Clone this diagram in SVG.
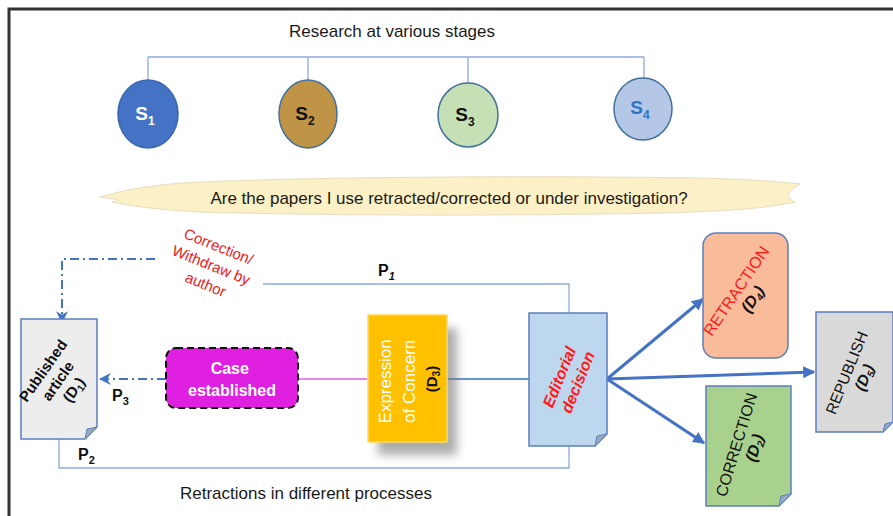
<svg xmlns="http://www.w3.org/2000/svg" width="893" height="516" viewBox="0 0 893 516">
<style>
text{font-family:"Liberation Sans",Arial,sans-serif}
.plain{font-size:17px;fill:#1a1a1a}
.sl{font-size:19px;font-weight:bold}
.conn{fill:none;stroke:#8eaadb;stroke-width:1.3}
.blue{fill:none;stroke:#4472c4;stroke-width:3}
.dd{fill:none;stroke:#4472c4;stroke-width:2;stroke-dasharray:9 4 2 4}
.doc{stroke:#5b7fbf;stroke-width:1.5}
.fold{fill:#9aa9bd;stroke:#5b7fbf;stroke-width:1}
.lbl{font-size:16px;font-weight:bold;fill:#111}
</style>
<defs>
<marker id="ah" viewBox="0 0 10 10" refX="9" refY="5" markerWidth="4" markerHeight="4" orient="auto-start-reverse" markerUnits="strokeWidth">
<path d="M0,0 L10,5 L0,10 Z" fill="#4472c4"/>
</marker>
<marker id="ah2" viewBox="0 0 10 10" refX="9" refY="5" markerWidth="6" markerHeight="6" orient="auto" markerUnits="strokeWidth">
<path d="M0,0 L10,5 L0,10 L3,5 Z" fill="#4472c4"/>
</marker>
<filter id="sh" x="-30%" y="-30%" width="160%" height="160%">
<feGaussianBlur stdDeviation="5"/>
</filter>
</defs>

<rect x="9" y="9" width="900" height="520" fill="#fff" stroke="#333" stroke-width="3"/>

<text class="plain" x="392" y="37" text-anchor="middle">Research at various stages</text>

<g id="connectors">
<path class="conn" d="M148,57 H644 M148,57 V80 M308,57 V80 M468,57 V84 M644,57 V78"/>
<path class="conn" d="M263,284 H569 V313"/>
<path class="conn" d="M59,439 V468 H569 V446"/>
<path class="dd" d="M155,259 H62 V322" marker-end="url(#ah2)"/>
<path class="dd" d="M166,379 H100" marker-end="url(#ah2)"/>
<line x1="298" y1="379" x2="368" y2="379" stroke="#e060e0" stroke-width="1.5"/>
<line x1="447" y1="379" x2="529" y2="379" stroke="#2e75b6" stroke-width="1.5"/>
<line class="blue" x1="607" y1="379" x2="703" y2="299" marker-end="url(#ah)"/>
<line class="blue" x1="607" y1="379" x2="814" y2="372" marker-end="url(#ah)"/>
<line class="blue" x1="607" y1="379" x2="704" y2="443" marker-end="url(#ah)"/>
</g>

<g id="s1">
<ellipse cx="148" cy="114" rx="30" ry="34" fill="#4472c4" stroke="#3a66b0" stroke-width="1.5"/>
<text class="sl" x="145" y="120" text-anchor="middle" fill="#fff">S<tspan font-size="12" dy="5">1</tspan></text>
</g>
<g id="s2">
<ellipse cx="308" cy="114" rx="29" ry="34" fill="#bf9446" stroke="#41719c" stroke-width="1.5"/>
<text class="sl" x="305" y="120" text-anchor="middle" fill="#111">S<tspan font-size="12" dy="5">2</tspan></text>
</g>
<g id="s3">
<ellipse cx="468" cy="115" rx="30" ry="32" fill="#c5e0b4" stroke="#41719c" stroke-width="1.5"/>
<text class="sl" x="465" y="121" text-anchor="middle" fill="#111">S<tspan font-size="12" dy="5">3</tspan></text>
</g>
<g id="s4">
<ellipse cx="643" cy="109" rx="29" ry="31" fill="#b4c7e7" stroke="#41719c" stroke-width="1.5"/>
<text class="sl" x="640" y="114" text-anchor="middle" fill="#2e75c6">S<tspan font-size="12" dy="5">4</tspan></text>
</g>

<g id="question">
<path d="M100,197 C130,188 160,184 200,182 C350,176 560,176 700,178 C740,179 775,181 800,184 C790,190 782,196 795,202 C760,210 700,213 600,214 C450,216 300,215 200,212 C160,210 130,206 112,202 C125,200 115,199 100,197 Z" fill="#fcf0c6" stroke="#e6dcc0" stroke-width="1"/>
<text x="449" y="204" text-anchor="middle" font-size="17" fill="#1a1a1a">Are the papers I use retracted/corrected or under investigation?</text>
</g>

<g id="withdraw-label">
<text transform="rotate(22 213 266)" font-size="15" fill="#f01818" text-anchor="middle">
<tspan x="213" y="251">Correction/</tspan>
<tspan x="213" y="271">Withdraw by</tspan>
<tspan x="213" y="291">author</tspan>
</text>
</g>

<text class="lbl" x="378" y="276">P<tspan font-size="11" dy="4" font-style="italic">1</tspan></text>
<text class="lbl" x="78" y="460">P<tspan font-size="11" dy="4">2</tspan></text>
<text class="lbl" x="112" y="401">P<tspan font-size="11" dy="4">3</tspan></text>

<g id="published">
<path class="doc" d="M21,319 H97 V427 L85,439 H21 Z" fill="#ededed"/>
<path class="fold" d="M97,427 L85,439 L87,429 Z"/>
<text transform="rotate(-55 60 380)" font-size="15" font-weight="bold" fill="#111" text-anchor="middle">
<tspan x="60" y="366">Published</tspan>
<tspan x="60" y="384">article</tspan>
<tspan x="60" y="402">(D<tspan font-size="10" dy="3">1</tspan><tspan dy="-3">)</tspan></tspan>
</text>
</g>

<g id="case">
<rect x="166" y="348" width="132" height="60" rx="10" fill="#e020e0" stroke="#111" stroke-width="2" stroke-dasharray="7 4"/>
<text font-size="16" font-weight="bold" fill="#fff" text-anchor="middle">
<tspan x="232" y="374">Case</tspan>
<tspan x="232" y="396">established</tspan>
</text>
</g>

<g id="eoc">
<rect x="378" y="328" width="79" height="127" fill="#777" opacity="0.6" filter="url(#sh)"/>
<rect x="368" y="315" width="79" height="127" fill="#ffc000" stroke="#ffd966" stroke-width="1.5"/>
<text transform="rotate(-90 408 379)" font-size="17" text-anchor="middle">
<tspan x="408" y="362" fill="#fff">Expression</tspan>
<tspan x="408" y="386" fill="#fff">of Concern</tspan>
<tspan x="408" y="408" fill="#111" font-weight="bold" font-size="15">(D<tspan font-size="10" dy="3">3</tspan><tspan dy="-3">)</tspan></tspan>
</text>
</g>

<g id="editorial">
<path class="doc" d="M529,313 H607 V434 L595,446 H529 Z" fill="#bdd7ee"/>
<path class="fold" d="M607,434 L595,446 L597,436 Z"/>
<text transform="rotate(-68 570 379)" font-size="16" font-weight="bold" font-style="italic" fill="#ff1a1a" text-anchor="middle">
<tspan x="570" y="374">Editorial</tspan>
<tspan x="570" y="393">decision</tspan>
</text>
</g>

<g id="retraction">
<rect x="703" y="233" width="85" height="125" rx="13" fill="#f8bc9a" stroke="#5b7fbf" stroke-width="1.5"/>
<text transform="rotate(-56 748 296)" font-size="16" text-anchor="middle">
<tspan x="748" y="289" fill="#ff1a1a">RETRACTION</tspan>
<tspan x="748" y="307" fill="#111" font-weight="bold" font-style="italic">(D<tspan font-size="10" dy="3">4</tspan><tspan dy="-3">)</tspan></tspan>
</text>
</g>

<g id="republish">
<path class="doc" d="M816,312 H893 V422 L883,432 H816 Z" fill="#d9d9d9"/>
<path class="fold" d="M893,422 L883,432 L885,424 Z"/>
<text transform="rotate(-68 858 375)" font-size="15.5" text-anchor="middle" fill="#111">
<tspan x="858" y="369">REPUBLISH</tspan>
<tspan x="858" y="387" font-weight="bold" font-style="italic">(D<tspan font-size="10" dy="3">5</tspan><tspan dy="-3">)</tspan></tspan>
</text>
</g>

<g id="correction">
<path class="doc" d="M706,386 H791 V494 L779,506 H706 Z" fill="#a9d18e"/>
<path class="fold" d="M791,494 L779,506 L781,496 Z"/>
<text transform="rotate(-73 748 446)" font-size="16" text-anchor="middle" fill="#111">
<tspan x="748" y="440">CORRECTION</tspan>
<tspan x="748" y="458" font-weight="bold" font-style="italic">(D<tspan font-size="10" dy="3">2</tspan><tspan dy="-3">)</tspan></tspan>
</text>
</g>

<text class="plain" x="306" y="499" text-anchor="middle" font-size="16">Retractions in different processes</text>
</svg>
